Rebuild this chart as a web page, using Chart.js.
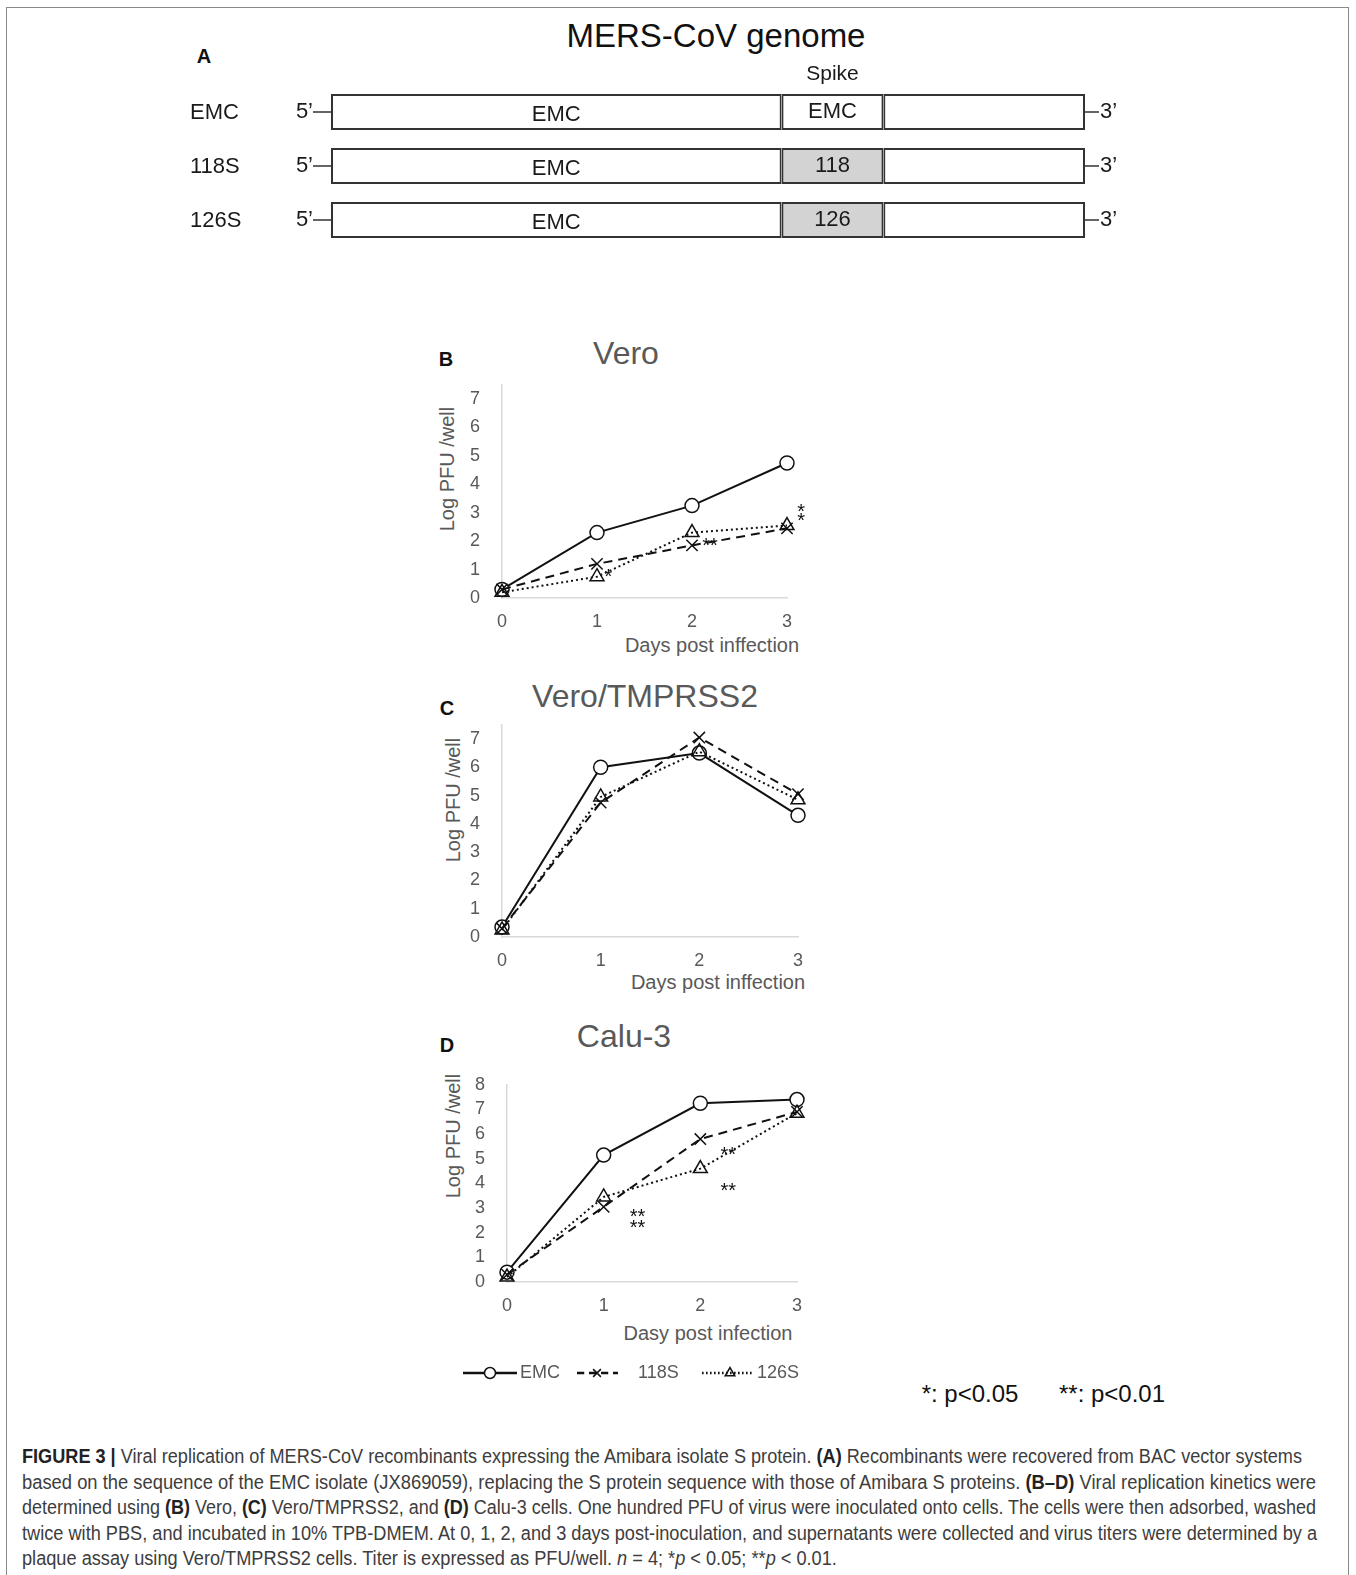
<!DOCTYPE html>
<html>
<head>
<meta charset="utf-8">
<script src="https://cdn.jsdelivr.net/npm/chart.js@4.4.1/dist/chart.umd.min.js"></script>
<style>
  body { margin: 0; background: #fff; font-family: "Liberation Sans", Arial, sans-serif; }
  #page { position: relative; width: 1356px; height: 1575px; overflow: hidden; }
  .frame { position: absolute; left: 6px; top: 7px; width: 1341px; height: 1600px; border: 1.5px solid #8a8a8a; }
  .abs { position: absolute; white-space: nowrap; line-height: 1; }
  .ctitle { font-size: 32px; color: #595959; transform: translate(-50%, -50%); }
  .panel { font-weight: bold; font-size: 20px; color: #111; transform: translate(-50%, -50%); }
  .ytitle { font-size: 20px; color: #595959; transform: translate(-50%, -50%) rotate(-90deg); }
  .xtitle { font-size: 20px; color: #595959; transform: translate(-50%, -50%); }
  .pval { font-size: 24px; color: #111; transform: translate(-50%, -50%); }
  canvas { position: absolute; }
  #caption { position: absolute; left: 22px; top: 1444px; font-family: "Liberation Sans Narrow", "Liberation Sans", sans-serif; font-size: 20px; line-height: 25.5px; color: #3d3d3d; }
  #caption div { white-space: nowrap; transform-origin: 0 50%; width: max-content; }
  #caption b { color: #222; }
</style>
</head>
<body>
<div id="page">
  <div class="frame"></div>

  <div class="abs" style="left:716px; top:35px; font-size:33px; color:#111; transform:translate(-50%,-50%);">MERS-CoV genome</div>
  <div class="abs panel" style="left:204px; top:56px;">A</div>
  <canvas id="genomeChart" width="1356" height="260" style="left:0; top:0;"></canvas>

  <!-- B -->
  <div class="abs panel" style="left:446px; top:359px;">B</div>
  <div class="abs ctitle" style="left:626px; top:353px;">Vero</div>
  <div class="abs ytitle" style="left:447px; top:469px;">Log PFU /well</div>
  <div class="abs xtitle" style="left:712px; top:645px;">Days post inffection</div>
  <canvas id="veroChart" width="400" height="280" style="left:420px; top:360px;"></canvas>

  <!-- C -->
  <div class="abs panel" style="left:447px; top:708px;">C</div>
  <div class="abs ctitle" style="left:645px; top:696px;">Vero/TMPRSS2</div>
  <div class="abs ytitle" style="left:453px; top:800px;">Log PFU /well</div>
  <div class="abs xtitle" style="left:718px; top:982px;">Days post inffection</div>
  <canvas id="tmprssChart" width="400" height="280" style="left:420px; top:700px;"></canvas>

  <!-- D -->
  <div class="abs panel" style="left:447px; top:1045px;">D</div>
  <div class="abs ctitle" style="left:624px; top:1036px;">Calu-3</div>
  <div class="abs ytitle" style="left:453px; top:1136px;">Log PFU /well</div>
  <div class="abs xtitle" style="left:708px; top:1333px;">Dasy post infection</div>
  <canvas id="caluChart" width="400" height="330" style="left:420px; top:1060px;"></canvas>

  <div class="abs pval" style="left:970px; top:1394px;">*: p&lt;0.05</div>
  <div class="abs pval" style="left:1112px; top:1394px;">**: p&lt;0.01</div>

  <div id="caption">
    <div><b>FIGURE 3 |</b> Viral replication of MERS-CoV recombinants expressing the Amibara isolate S protein. <b>(A)</b> Recombinants were recovered from BAC vector systems</div>
    <div>based on the sequence of the EMC isolate (JX869059), replacing the S protein sequence with those of Amibara S proteins. <b>(B–D)</b> Viral replication kinetics were</div>
    <div>determined using <b>(B)</b> Vero, <b>(C)</b> Vero/TMPRSS2, and <b>(D)</b> Calu-3 cells. One hundred PFU of virus were inoculated onto cells. The cells were then adsorbed, washed</div>
    <div>twice with PBS, and incubated in 10% TPB-DMEM. At 0, 1, 2, and 3 days post-inoculation, and supernatants were collected and virus titers were determined by a</div>
    <div>plaque assay using Vero/TMPRSS2 cells. Titer is expressed as PFU/well. <i>n</i> = 4; *<i>p</i> &lt; 0.05; **<i>p</i> &lt; 0.01.</div>
  </div>
</div>

<script>
// ---- A: genome constructs ----
const constructs = ["EMC", "118S", "126S"];
const spikeOrigin = ["EMC", "118", "126"];
const spikeFill = ["#ffffff", "#d3d3d3", "#d3d3d3"];
const upstreamRegion = [0, 447];
const spikeRegion = [447, 548];
const downstreamRegion = [548, 748];

// ---- B-D: replication kinetics (log PFU/well) ----
const days = ["0", "1", "2", "3"];
const seriesNames = ["EMC", "118S", "126S"];

const veroEMC = [0.3, 2.3, 3.25, 4.75];
const vero118S = [0.3, 1.2, 1.85, 2.45];
const vero126S = [0.2, 0.75, 2.3, 2.55];

const tmprssEMC = [0.35, 6.0, 6.5, 4.3];
const tmprss118S = [0.3, 4.75, 7.05, 5.05];
const tmprss126S = [0.25, 4.95, 6.55, 4.85];

const caluEMC = [0.4, 5.15, 7.25, 7.4];
const calu118S = [0.3, 3.05, 5.8, 6.9];
const calu126S = [0.2, 3.45, 4.6, 6.85];

const veroTicks = [0, 1, 2, 3, 4, 5, 6, 7];
const tmprssTicks = [0, 1, 2, 3, 4, 5, 6, 7];
const caluTicks = [0, 1, 2, 3, 4, 5, 6, 7, 8];

// significance marks, in data units (day, log PFU)
const veroSig = [[1.12, 0.9, "*"], [2.19, 2.0, "**"], [3.15, 3.2, "*"], [3.15, 2.88, "*"]];
const tmprssSig = [];
const caluSig = [[1.35, 2.83, "**"], [1.35, 2.36, "**"], [2.29, 5.34, "**"], [2.29, 3.89, "**"]];

const FONT = '"Liberation Sans", Arial, sans-serif';
const GREY = "#595959";
const AXIS = "#d9d9d9";

// panel A
const genomeLabels = {
  id: "genomeLabels",
  afterDatasetsDraw(chart) {
    const { ctx, scales: { x, y } } = chart;
    const left = x.getPixelForValue(upstreamRegion[0]);
    const right = x.getPixelForValue(downstreamRegion[1]);
    const upMid = x.getPixelForValue((upstreamRegion[0] + upstreamRegion[1]) / 2);
    const spMid = x.getPixelForValue((spikeRegion[0] + spikeRegion[1]) / 2);
    ctx.save();
    ctx.fillStyle = "#1a1a1a";
    ctx.strokeStyle = "#333";
    ctx.lineWidth = 1.5;
    ctx.textBaseline = "middle";
    ctx.font = "22px " + FONT;
    constructs.forEach((name, i) => {
      const yc = y.getPixelForValue(i);
      ctx.textAlign = "left";
      ctx.fillText(name, 190, yc + 1);
      ctx.textAlign = "right";
      ctx.fillText("5’", left - 18, yc);
      ctx.beginPath();
      ctx.moveTo(left - 18, yc); ctx.lineTo(left, yc);
      ctx.moveTo(right, yc); ctx.lineTo(right + 14, yc);
      ctx.stroke();
      ctx.textAlign = "left";
      ctx.fillText("3’", right + 15, yc);
      ctx.textAlign = "center";
      ctx.fillText("EMC", upMid, yc + 3);
      ctx.fillText(spikeOrigin[i], spMid, yc);
    });
    ctx.font = "21px " + FONT;
    ctx.fillText("Spike", spMid, 74);
    ctx.restore();
  }
};

const genomeCtx = document.getElementById("genomeChart").getContext("2d");
new Chart(genomeCtx, {
  type: "bar",
  data: {
    labels: constructs,
    datasets: [
      { data: constructs.map(() => upstreamRegion), backgroundColor: "#fff" },
      { data: constructs.map(() => spikeRegion), backgroundColor: spikeFill },
      { data: constructs.map(() => downstreamRegion), backgroundColor: "#fff" },
    ],
  },
  options: {
    indexAxis: "y",
    responsive: false,
    animation: false,
    layout: { padding: { left: 331, right: 271, top: 85, bottom: 13 } },
    datasets: {
      bar: { grouped: false, borderColor: "#333", borderWidth: 2, borderSkipped: false, barPercentage: 1, categoryPercentage: 0.667 },
    },
    plugins: { legend: { display: false }, tooltip: { enabled: false } },
    scales: {
      x: { type: "linear", min: upstreamRegion[0], max: downstreamRegion[1], display: false },
      y: { display: false },
    },
  },
  plugins: [genomeLabels],
});

// panels B-D
const seriesStyle = [
  { borderDash: [], pointStyle: "circle", pointRadius: 7, pointBackgroundColor: "#fff", order: 3 },
  { borderDash: [9, 6], pointStyle: "crossRot", pointRadius: 8, pointBackgroundColor: "rgba(0,0,0,0)", order: 2 },
  { borderDash: [2, 3], pointStyle: "triangle", pointRadius: 8, pointBackgroundColor: "rgba(0,0,0,0)", order: 1 },
];

const sigPlugin = {
  id: "sigMarks",
  afterDatasetsDraw(chart, args, opts) {
    const { ctx, scales: { x, y } } = chart;
    ctx.save();
    ctx.fillStyle = "#111";
    ctx.font = "20px " + FONT;
    ctx.textAlign = "center";
    ctx.textBaseline = "middle";
    (opts.marks || []).forEach(([d, v, t]) => {
      ctx.fillText(t, x.getPixelForValue(d), y.getPixelForValue(v) + 5);
    });
    ctx.restore();
  }
};

const legendPlugin = {
  id: "seriesLegend",
  afterDraw(chart, args, opts) {
    if (!opts.items) return;
    const ctx = chart.ctx;
    ctx.save();
    opts.items.forEach((it, i) => {
      const ds = chart.data.datasets[i];
      ctx.strokeStyle = "#111";
      ctx.lineWidth = 2.5;
      ctx.setLineDash(ds.borderDash.length ? ds.borderDash.map(v => v * 0.8) : []);
      ctx.beginPath();
      ctx.moveTo(it.from, opts.y); ctx.lineTo(it.to, opts.y);
      ctx.stroke();
      ctx.setLineDash([]);
      ctx.lineWidth = 1.5;
      ctx.fillStyle = ds.pointBackgroundColor;
      Chart.helpers.drawPoint(ctx, { pointStyle: ds.pointStyle, radius: 5.5, borderWidth: 1.5, rotation: 0 }, it.mark, opts.y);
      ctx.fillStyle = GREY;
      ctx.font = "18px " + FONT;
      ctx.textAlign = "left";
      ctx.textBaseline = "middle";
      ctx.fillText(seriesNames[i], it.text, opts.y);
    });
    ctx.restore();
  }
};

function kineticsChart(id, series, yTicks, yMax, marks, pad, legend) {
  const ctx = document.getElementById(id).getContext("2d");
  return new Chart(ctx, {
    type: "line",
    data: {
      labels: days,
      datasets: series.map((vals, i) => Object.assign({
        label: seriesNames[i],
        data: vals,
        borderColor: "#111",
        borderWidth: 2,
        pointBorderColor: "#111",
        pointBorderWidth: 1.5,
        tension: 0,
        clip: false,
      }, seriesStyle[i])),
    },
    options: {
      responsive: false,
      animation: false,
      layout: { padding: pad },
      plugins: {
        legend: { display: false },
        tooltip: { enabled: false },
        sigMarks: { marks: marks },
        seriesLegend: legend || {},
      },
      scales: {
        x: {
          offset: false,
          grid: { display: false },
          border: { color: AXIS, width: 1.5 },
          ticks: { color: GREY, font: { family: FONT, size: 18 }, padding: 5, maxRotation: 0 },
          afterFit(s) { s.height = 42; },
        },
        y: {
          min: 0,
          max: yMax,
          grid: { display: false },
          border: { color: AXIS, width: 1.5 },
          ticks: { color: GREY, font: { family: FONT, size: 18 }, padding: 14 },
          afterBuildTicks(s) { s.ticks = yTicks.map(v => ({ value: v })); },
          afterFit(s) { s.width = 40; },
        },
      },
    },
    plugins: [sigPlugin, legendPlugin],
  });
}

kineticsChart("veroChart", [veroEMC, vero118S, vero126S], veroTicks, 7.5, veroSig,
  { left: 42, right: 33, top: 18, bottom: 0 });
kineticsChart("tmprssChart", [tmprssEMC, tmprss118S, tmprss126S], tmprssTicks, 7.5, tmprssSig,
  { left: 42, right: 22, top: 21, bottom: 1 });
kineticsChart("caluChart", [caluEMC, calu118S, calu126S], caluTicks, 8, caluSig,
  { left: 47, right: 23, top: 19, bottom: 66 },
  { y: 313, items: [
    { from: 43, to: 97, mark: 70, text: 100 },
    { from: 157, to: 198, mark: 177, text: 218 },
    { from: 282, to: 333, mark: 310, text: 337 },
  ] });

// stretch caption lines to the reference line lengths
const captionWidths = [1280, 1294, 1294, 1295];
const lines = document.querySelectorAll("#caption div");
let lastScale = 1;
lines.forEach((el, i) => {
  const w = el.getBoundingClientRect().width;
  const target = captionWidths[i];
  if (target) lastScale = target / w;
  el.style.transform = "scaleX(" + lastScale + ")";
});
</script>
</body>
</html>
